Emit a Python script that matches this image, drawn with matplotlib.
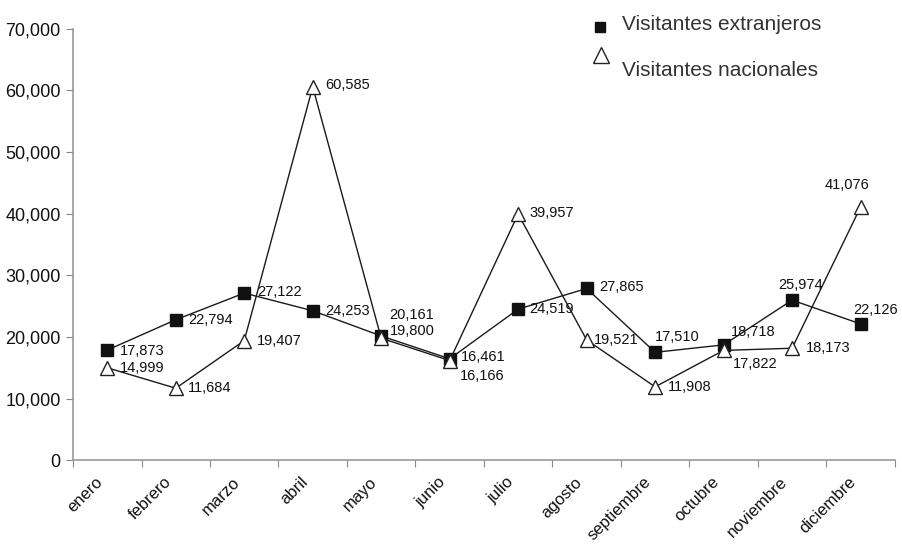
import matplotlib.pyplot as plt
from matplotlib.lines import Line2D

meses = ['enero', 'febrero', 'marzo', 'abril', 'mayo', 'junio', 'julio',
         'agosto', 'septiembre', 'octubre', 'noviembre', 'diciembre']
extranjeros = [17873, 22794, 27122, 24253, 20161, 16461, 24519, 27865,
               17510, 18718, 25974, 22126]
nacionales = [14999, 11684, 19407, 60585, 19800, 16166, 39957, 19521,
              11908, 17822, 18173, 41076]
yticks = [0, 10000, 20000, 30000, 40000, 50000, 60000, 70000]

# label offsets in points: (dx, dy, ha)
off_ext = [(9, -1, 'left'), (9, 0, 'left'), (9, 1, 'left'), (9, 0, 'left'),
           (6, 15, 'left'), (8, 1, 'left'), (8, 0, 'left'), (9, 1, 'left'),
           (0, 11, 'left'), (5, 9, 'left'), (6, 11, 'center'), (11, 10, 'center')]
off_nac = [(9, 0, 'left'), (9, 0, 'left'), (9, 0, 'left'), (9, 1, 'left'),
           (6, 5, 'left'), (7, -11, 'left'), (8, 1, 'left'), (5, 0, 'left'),
           (9, 0, 'left'), (7, -10, 'left'), (10, 0, 'left'), (-10, 16, 'center')]

plt.rcParams['font.family'] = ['Liberation Sans', 'DejaVu Sans']

fig = plt.figure(figsize=(9.02, 5.44), dpi=100)
ax = fig.add_axes([0.081, 0.154, 0.911, 0.793])

x = list(range(len(meses)))
ax.plot(x, extranjeros, color='#1a1a1a', lw=1.0, marker='s', ms=8,
        mfc='#111111', mec='#111111', zorder=3)
ax.plot(x, nacionales, color='#1a1a1a', lw=1.0, marker='^', ms=10,
        mfc='white', mec='#222222', mew=1.0, zorder=3)

for i in x:
    dx, dy, ha = off_ext[i]
    ax.annotate(f'{extranjeros[i]:,}', (i, extranjeros[i]), xytext=(dx, dy),
                textcoords='offset points', ha=ha, va='center',
                fontsize=10.5, color='#111111')
    dx, dy, ha = off_nac[i]
    ax.annotate(f'{nacionales[i]:,}', (i, nacionales[i]), xytext=(dx, dy),
                textcoords='offset points', ha=ha, va='center',
                fontsize=10.5, color='#111111')

ax.set_xlim(-0.5, len(meses) - 0.5)
ax.set_ylim(0, 70000)
ax.set_yticks(yticks)
ax.set_yticklabels([f'{v:,}' for v in yticks], fontsize=13, color='#111111')

ax.set_xticks([i - 0.5 for i in range(len(meses) + 1)])
ax.set_xticklabels([])
# month labels sit a little left of the point, as in the original
ax.set_xticks([i - 0.1 for i in x], minor=True)
ax.set_xticklabels(meses, minor=True, rotation=45, ha='right', va='center',
                   rotation_mode='anchor', fontsize=12, color='#111111')
ax.tick_params(axis='x', which='minor', length=0, pad=14)
ax.tick_params(axis='x', which='major', length=5, color='#888888', direction='out')
ax.tick_params(axis='y', length=5, color='#888888', direction='out', pad=4)

for s in ['top', 'right']:
    ax.spines[s].set_visible(False)
for s in ['left', 'bottom']:
    ax.spines[s].set_color('#999999')
    ax.spines[s].set_linewidth(1.2)

# legend drawn by hand, as in the original
fig.add_artist(Line2D([600 / 902], [1 - 27 / 544], marker='s', ms=7,
                      mfc='#111111', mec='#111111', transform=fig.transFigure))
fig.add_artist(Line2D([601 / 902], [1 - 55 / 544], marker='^', ms=12,
                      mfc='white', mec='#222222', mew=1.0, transform=fig.transFigure))
fig.text(622 / 902, 1 - 24 / 544, 'Visitantes extranjeros', fontsize=15,
         color='#333333', va='center')
fig.text(622 / 902, 1 - 70 / 544, 'Visitantes nacionales', fontsize=15,
         color='#333333', va='center')

fig.savefig('out.png', dpi=100)
